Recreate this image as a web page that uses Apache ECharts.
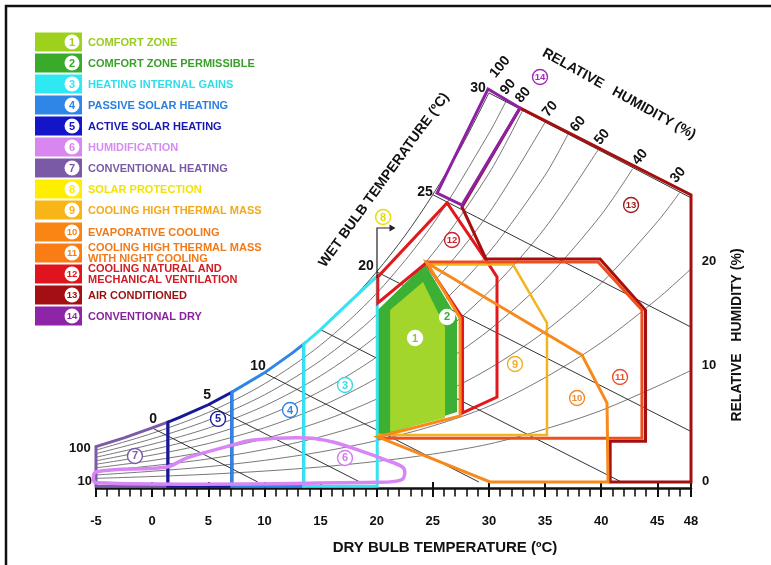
<!DOCTYPE html>
<html><head><meta charset="utf-8">
<script src="https://cdn.jsdelivr.net/npm/echarts@6/dist/echarts.min.js"></script>
<style>html,body{margin:0;padding:0;background:#fff}#c{width:771px;height:565px}</style>
</head><body><div id="c"></div>
<script>
const FF = '"Liberation Sans", Arial, sans-serif';
// ---------- axis ticks ----------
const xMajor = [-5,0,5,10,15,20,25,30,35,40,45,48];
const xMinor = Array.from({length:54},(_, i)=> i-5);

// ---------- relative humidity curves [dry bulb degC, humidity ratio g/kg] ----------
const rh100 = [[-5,2.48],[-2.5,3.08],[0,3.78],[2.5,4.53],[5,5.40],[7.5,6.44],[10,7.63],[12.5,9.03],[15,10.65],[17.5,12.52],[20,14.70],[22.5,17.20],[25,20.09],[27.5,23.38],[30,27.21]];
const rh90 = [[-5,2.23],[0,3.40],[5,4.86],[10,6.86],[15,9.57],[20,13.20],[25,18.02],[30,24.38],[31.5,26.6]];
const rh80 = [[-5,1.98],[0,3.02],[5,4.32],[10,6.09],[15,8.49],[20,11.70],[25,15.97],[30,21.58],[33.0,25.97]];
const rh70 = [[-5,1.73],[0,2.64],[5,3.77],[10,5.32],[15,7.42],[20,10.22],[25,13.93],[30,18.80],[35,25.15]];
const rh60 = [[-5,1.48],[0,2.26],[5,3.23],[10,4.56],[15,6.35],[20,8.74],[25,11.90],[30,16.05],[35,21.45],[37.05,24.33]];
const rh50 = [[-5,1.24],[0,1.88],[5,2.69],[10,3.79],[15,5.28],[20,7.26],[25,9.88],[30,13.31],[35,17.77],[39.7,23.2]];
const rh40 = [[-5,0.99],[0,1.50],[5,2.15],[10,3.03],[15,4.22],[20,5.80],[25,7.88],[30,10.61],[35,14.14],[40,18.68],[42.8,21.9]];
const rh30 = [[-5,0.74],[0,1.13],[5,1.61],[10,2.27],[15,3.16],[20,4.34],[25,5.89],[30,7.92],[35,10.54],[40,13.90],[45,18.19],[47.0,20.25]];
const rh20 = [[-5,0.49],[0,0.75],[5,1.07],[10,1.51],[15,2.10],[20,2.89],[25,3.92],[30,5.30],[35,7.3],[40,9.75],[45,12.8],[48,14.9]];
const rh10 = [[-5,0.25],[0,0.38],[5,0.54],[10,0.76],[15,1.05],[20,1.44],[25,1.95],[30,2.65],[35,3.7],[40,5.0],[45,6.7],[48,7.8]];
const rhLines = [rh90,rh80,rh70,rh60,rh50,rh40,rh30,rh20,rh10];

// ---------- wet bulb lines ----------
const wb0 = [[0,3.78],[9.4,0]];
const wb5 = [[5,5.40],[18.5,0]];
const wb10 = [[10,7.63],[29.1,0]];
const wb15 = [[15,10.65],[41.8,0]];
const wb20 = [[20,14.70],[48,3.53]];
const wb25 = [[25,20.09],[48,10.83]];
const wb30 = [[30,27.21],[48,19.87]];
const wbLines = [wb0,wb5,wb10,wb15,wb20,wb25,wb30];

// ---------- zones ----------
const zone1 = [[21.2,12.03],[24.13,13.99],[26.09,10.84],[26.09,4.48],[21.2,3.5]];
const zone2 = [[20.05,12.0],[24.31,15.24],[27.16,11.47],[27.16,4.9],[20.05,3.15]];
const zone3 = [[13.5,-0.3],[13.5,9.64],[15,10.65],[17.5,12.52],[20.05,14.40],[20.05,-0.3]];
const zone4 = [[7.1,-0.3],[7.1,6.28],[10,7.63],[12.5,9.03],[13.5,9.64],[13.5,-0.3]];
const zone5 = [[1.4,-0.3],[1.4,4.18],[2.5,4.53],[5,5.40],[7.1,6.28],[7.1,-0.3]];
const zone7 = [[-5,-0.3],[-5,2.48],[-2.5,3.08],[0,3.78],[1.4,4.18],[1.4,-0.3]];
const zone6 = [[-5,0.70],[1.3,1.05],[3.1,1.68],[7.2,2.59],[9.0,2.94],[13.8,3.08],[16.1,2.80],[19.1,2.03],[20.6,1.6],[22.3,1.05],[22.5,0.6],[22.2,0.15],[20.3,-0.02],[-5,-0.05]];
const zone9 = [[24.4,15.2],[32.15,15.2],[35.17,11.12],[35.17,3.28],[20.1,3.28]];
const zone10 = [[24.49,15.31],[38.29,8.88],[40.52,5.52],[40.61,0],[30.1,0],[20.1,3.15],[27.43,4.62],[27.43,11.47]];
const zone11 = [[24.3,15.38],[39.72,15.38],[43.63,12.03],[43.63,3.05],[20.1,3.05]];
const zone12 = [[20.1,12.52],[20.1,14.34],[26.27,19.51],[29.74,15.52],[30.72,14.34],[30.72,5.94],[27.65,4.83],[27.65,11.47],[24.4,15.31]];
const zone13 = [[32.77,26.15],[27.6,19.23],[29.74,15.6],[39.9,15.6],[43.95,12.0],[43.95,2.85],[40.8,2.85],[40.8,0],[48,0],[48,20.07]];
const zone14 = [[29.92,27.48],[32.77,26.15],[27.6,19.37],[25.38,20.21]];
const arrow8 = [[20.03,14.27],[20.03,17.76],[21.5,17.76]];

// ---------- numbered zone markers ----------
const markers = [[23.42,10.07,'1'],[26.27,11.54,'2'],[17.18,6.78,'3'],[12.28,5.03,'4'],[5.87,4.41,'5'],[17.18,1.68,'6'],[-1.53,1.82,'7'],[20.57,18.53,'8'],[32.32,8.25,'9'],[37.85,5.87,'10'],[41.68,7.34,'11'],[26.71,16.92,'12'],[42.66,19.37,'13'],[34.55,28.32,'14']];
const markerColors = ['#8cc63f','#3aa935','#35dbe8','#2e84e6','#1c1c9c','#d37cf0','#7b5ba8','#e8dc00','#f0ae20','#f08a30','#e8502a','#c8202a','#a01c1c','#9c2cb0'];

// ---------- text labels: [T, w, text, rotationDeg] ----------
const wbLabels = [[0.08,4.41,'0',0],[4.89,6.08,'5',0],[9.43,8.11,'10',0],[19.05,15.10,'20',0],[24.31,20.28,'25',0],[29.03,27.55,'30',0]];
const rhTopLabels = [[30.99,29.02,'100',50],[31.7,27.62,'90',50],[33.04,27.06,'80',50],[35.44,26.08,'70',50],[37.94,25.03,'60',50],[40.07,24.13,'50',50],[43.46,22.73,'40',50],[46.84,21.47,'30',50]];
const rhSideLabels = [[49.6,15.45,'20',0],[49.6,8.18,'10',0],[49.3,0.07,'0',0],[-6.43,2.38,'100',0],[-6.0,0.07,'10',0]];

// ---------- legend ----------
const legendLabels = ['COMFORT ZONE','COMFORT ZONE PERMISSIBLE','HEATING INTERNAL GAINS','PASSIVE SOLAR HEATING','ACTIVE SOLAR HEATING','HUMIDIFICATION','CONVENTIONAL HEATING','SOLAR PROTECTION','COOLING HIGH THERMAL MASS','EVAPORATIVE COOLING','COOLING HIGH THERMAL MASS\nWITH NIGHT COOLING','COOLING NATURAL AND\nMECHANICAL VENTILATION','AIR CONDITIONED','CONVENTIONAL DRY'];
const legendBox = ['#9ed11e','#3aaa2a','#2ee8f2','#2f86e6','#1414c8','#d887f0','#7a5aa6','#ffee00','#f8b517','#f98514','#f97c14','#e0141e','#a30f12','#8e25a8'];
const legendText = ['#98cc1a','#3a9f2a','#30dde9','#2a7fe0','#1818b0','#d68cf0','#7a5aa6','#f2e400','#f3a91a','#f07a18','#f27a1a','#d01c24','#9a1010','#8a22a0'];
const legendY = [42,63,84,105,126,147,168,189,210,232,253,274,295,316];

const chart = echarts.init(document.getElementById('c'));

function zoneSeries(pts, stroke, lw, opts) {
  opts = opts || {};
  return {
    type:'custom', coordinateSystem:'cartesian2d', clip:false, silent:true, z: opts.z || 3,
    data: pts,
    renderItem: function(params, api){
      if (params.dataIndex !== 0) return null;
      const p = pts.map(d => api.coord(d));
      return {type: opts.open ? 'polyline' : 'polygon',
        shape:{points:p, smooth: opts.smooth || 0},
        style:{fill: opts.fill || 'none', stroke: stroke || 'none', lineWidth: lw || 0, lineJoin:'miter'}};
    }
  };
}
function lineSeries(pts, color, w, smooth) {
  return {type:'line', data: pts, showSymbol:false, smooth: smooth || false, silent:true, z:1,
    lineStyle:{color: color, width: w}, animation:false};
}
function textSeries(arr, font) {
  return {
    type:'custom', coordinateSystem:'cartesian2d', clip:false, silent:true, z:6,
    data: arr.map(d => [d[0], d[1]]),
    renderItem: function(params, api){
      const d = arr[params.dataIndex];
      const c = api.coord([d[0], d[1]]);
      return {type:'text', x:c[0], y:c[1], rotation: d[3]*Math.PI/180,
        style:{text:d[2], font: font, fill:'#111', align:'center', verticalAlign:'middle'}};
    }
  };
}

const series = [];
rhLines.forEach(l => series.push(lineSeries(l, '#555', 0.8, 0.3)));
series.push(lineSeries(rh100, '#444', 1, 0.3));
wbLines.forEach(l => series.push(lineSeries(l, '#333', 1, false)));
series.push(zoneSeries(zone2, null, 0, {fill:'#3cb034', z:2}));
series.push(zoneSeries(zone1, null, 0, {fill:'#a3d62c', z:2}));
series.push(zoneSeries(zone7, '#7b5ba8', 3));
series.push(zoneSeries(zone5, '#17179a', 3));
series.push(zoneSeries(zone4, '#2e86e8', 3));
series.push(zoneSeries(zone3, '#35e4f2', 3));
series.push(zoneSeries(zone6, '#d886f5', 3.5, {smooth:0.35}));
series.push(zoneSeries(zone12, '#e3181d', 3));
series.push(zoneSeries(zone13, '#a40f10', 3));
series.push(zoneSeries(zone9, '#f4b51c', 2.5, {open:true}));
series.push(zoneSeries(zone11, '#ef4f1d', 3, {open:true}));
series.push(zoneSeries(zone10, '#f78a1b', 3));
series.push(zoneSeries(zone14, '#8d20a3', 3));
series.push(zoneSeries(arrow8, '#222', 1.2, {open:true, z:4}));
// arrow head for solar protection marker
series.push({
  type:'custom', coordinateSystem:'cartesian2d', clip:false, silent:true, z:4,
  data:[arrow8[2]],
  renderItem: function(params, api){
    const c = api.coord(arrow8[2]);
    return {type:'polygon', shape:{points:[[c[0]+2,c[1]],[c[0]-4,c[1]-3.5],[c[0]-4,c[1]+3.5]]}, style:{fill:'#222'}};
  }
});
series.push({
  type:'custom', coordinateSystem:'cartesian2d', clip:false, silent:true, z:7,
  data: markers.map(d => [d[0], d[1]]),
  renderItem: function(params, api){
    const i = params.dataIndex, d = markers[i];
    const c = api.coord([d[0], d[1]]);
    const col = markerColors[i];
    return {type:'group', x:c[0], y:c[1], children:[
      {type:'circle', shape:{cx:0, cy:0, r:7.5}, style:{fill:'#fff', stroke: (i<2?'#fff':col), lineWidth:1.4}},
      {type:'text', style:{text:d[2], x:0, y:0.5, align:'center', verticalAlign:'middle', fill:col,
        font: (d[2].length>1 ? 'bold 9.5px ' : 'bold 11px ') + FF}}
    ]};
  }
});
series.push(textSeries(wbLabels, 'bold 14px ' + FF));
series.push(textSeries(rhTopLabels, 'bold 14px ' + FF));
series.push(textSeries(rhSideLabels, 'bold 13px ' + FF));

// legend graphics
const graphics = [
  {type:'rect', shape:{x:6, y:6, width:820, height:620}, style:{fill:'none', stroke:'#111', lineWidth:2.5}, z:100}
];
legendLabels.forEach((t, i) => {
  const cy = legendY[i];
  graphics.push({type:'rect', shape:{x:35, y:cy-9.5, width:47, height:19}, style:{fill:legendBox[i]}});
  graphics.push({type:'circle', shape:{cx:72, cy:cy, r:7.5}, style:{fill:'#fff'}});
  graphics.push({type:'text', x:72, y:cy+0.5, style:{text:String(i+1), align:'center', verticalAlign:'middle',
    fill:legendBox[i], font:(i>=9?'bold 9.5px ':'bold 11px ')+FF}});
  graphics.push({type:'text', x:88, y:cy+0.5, style:{text:t, align:'left', verticalAlign:'middle',
    fill:legendText[i], font:'bold 11px '+FF, lineHeight:11}});
});
graphics.push({type:'text', x:445, y:548, style:{text:'DRY BULB TEMPERATURE (ºC)', font:'bold 15px '+FF, fill:'#111', align:'center', verticalAlign:'middle'}});
graphics.push({type:'text', x:384, y:180, rotation:54*Math.PI/180, style:{text:'WET BULB TEMPERATURE (ºC)', font:'bold 14px '+FF, fill:'#111', align:'center', verticalAlign:'middle'}});
graphics.push({type:'text', x:619, y:94, rotation:-29*Math.PI/180, style:{text:'RELATIVE   HUMIDITY (%)', font:'bold 14px '+FF, fill:'#111', align:'center', verticalAlign:'middle'}});
graphics.push({type:'text', x:737, y:335, rotation:Math.PI/2, style:{text:'RELATIVE   HUMIDITY (%)', font:'bold 14px '+FF, fill:'#111', align:'center', verticalAlign:'middle'}});

chart.setOption({
  animation:false,
  backgroundColor:'#fff',
  grid:{left:96, right:80, top:38.7, bottom:76.6, containLabel:false},
  xAxis:[
    {type:'value', min:-5, max:48, position:'bottom',
     axisLine:{show:true, onZero:false, lineStyle:{color:'#111', width:2.5}},
     axisTick:{show:true, customValues:xMinor, length:8, lineStyle:{color:'#111', width:1.6}},
     axisLabel:{show:false}, splitLine:{show:false}},
    {type:'value', min:-5, max:48, position:'bottom', offset:0,
     axisLine:{show:false},
     axisTick:{show:true, customValues:xMajor, length:15, lineStyle:{color:'#111', width:2}},
     axisLabel:{show:true, customValues:xMajor, margin:27, color:'#111', fontSize:13, fontWeight:'bold', fontFamily:FF},
     splitLine:{show:false}}
  ],
  yAxis:{type:'value', min:-0.45, max:31, show:false, splitLine:{show:false}},
  series: series,
  graphic: graphics
});
</script></body></html>
